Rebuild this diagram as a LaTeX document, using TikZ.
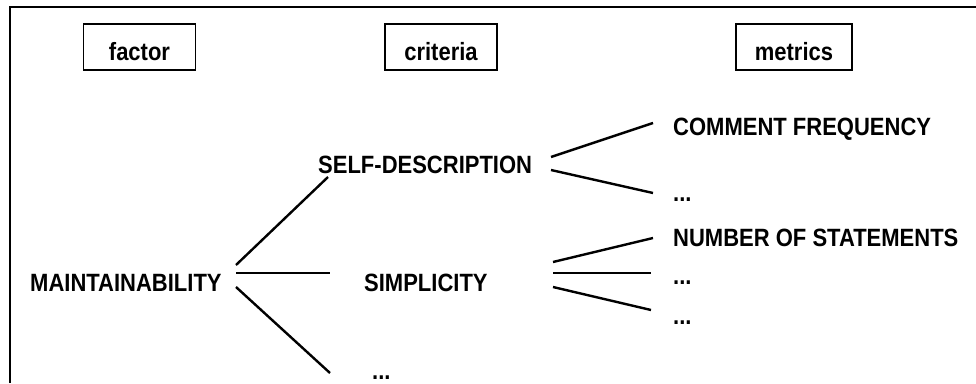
\documentclass[tikz,border=0pt]{standalone}
\usepackage{fontspec}
\setmainfont{Liberation Sans}[FakeStretch=0.88]

\begin{document}
\begin{tikzpicture}[x=1pt, y=-1pt,
		every node/.style={font=\fontsize{25}{28}\selectfont\bfseries},
		head/.style={draw, line width=1.2pt, minimum width=112pt, minimum height=46pt, text height=26pt, text depth=0pt, inner sep=0pt},
		term/.style={anchor=base west, inner sep=0pt},
		link/.style={line width=2.4pt},
		flat/.style={line width=1.3pt}]

		\useasboundingbox (0,0) rectangle (976,383);

		% --- Frame ---
		\draw[line width=2pt] (10,383) -- (10,7) -- (976,7);

		% --- Column Heads ---
		\node[head] (factor) at (139.5,47) {factor};
		\node[head] (criteria) at (441,47) {criteria};
		\node[head, minimum width=116pt] (metrics) at (794,47) {metrics};

		% --- Terms ---
		\node[term] (maint) at (30,291) {MAINTAINABILITY};
		\node[term] (self) at (318,173) {SELF-DESCRIPTION};
		\node[term] (simp) at (364,291) {SIMPLICITY};
		\node[term] (cdots) at (372,379) {...};
		\node[term] (comment) at (673,135) {COMMENT FREQUENCY};
		\node[term] (sdots) at (673,201) {...};
		\node[term] (number) at (673,246) {NUMBER OF STATEMENTS};
		\node[term] (ndots1) at (673,284) {...};
		\node[term] (ndots2) at (673,324) {...};

		% --- Factor to Criteria ---
		\draw[link] ([shift={(206,-26)}]maint.base west) -- ([shift={(10,4)}]self.base west);
		\draw[flat] ([shift={(206,-18)}]maint.base west) -- ([shift={(-34,-18)}]simp.base west);
		\draw[link] ([shift={(206,-4)}]maint.base west) -- ([shift={(-42,-6)}]cdots.base west);

		% --- Criteria to Metrics ---
		\draw[link] ([shift={(233,-16)}]self.base west) -- ([shift={(-20,-12)}]comment.base west);
		\draw[link] ([shift={(233,-3)}]self.base west) -- ([shift={(-20,-8)}]sdots.base west);

		\draw[link] ([shift={(189,-29)}]simp.base west) -- ([shift={(-20,-8)}]number.base west);
		\draw[flat] ([shift={(189,-18)}]simp.base west) -- ([shift={(-22,-11)}]ndots1.base west);
		\draw[link] ([shift={(189,-4)}]simp.base west) -- ([shift={(-22,-14)}]ndots2.base west);

	\end{tikzpicture}
\end{document}
